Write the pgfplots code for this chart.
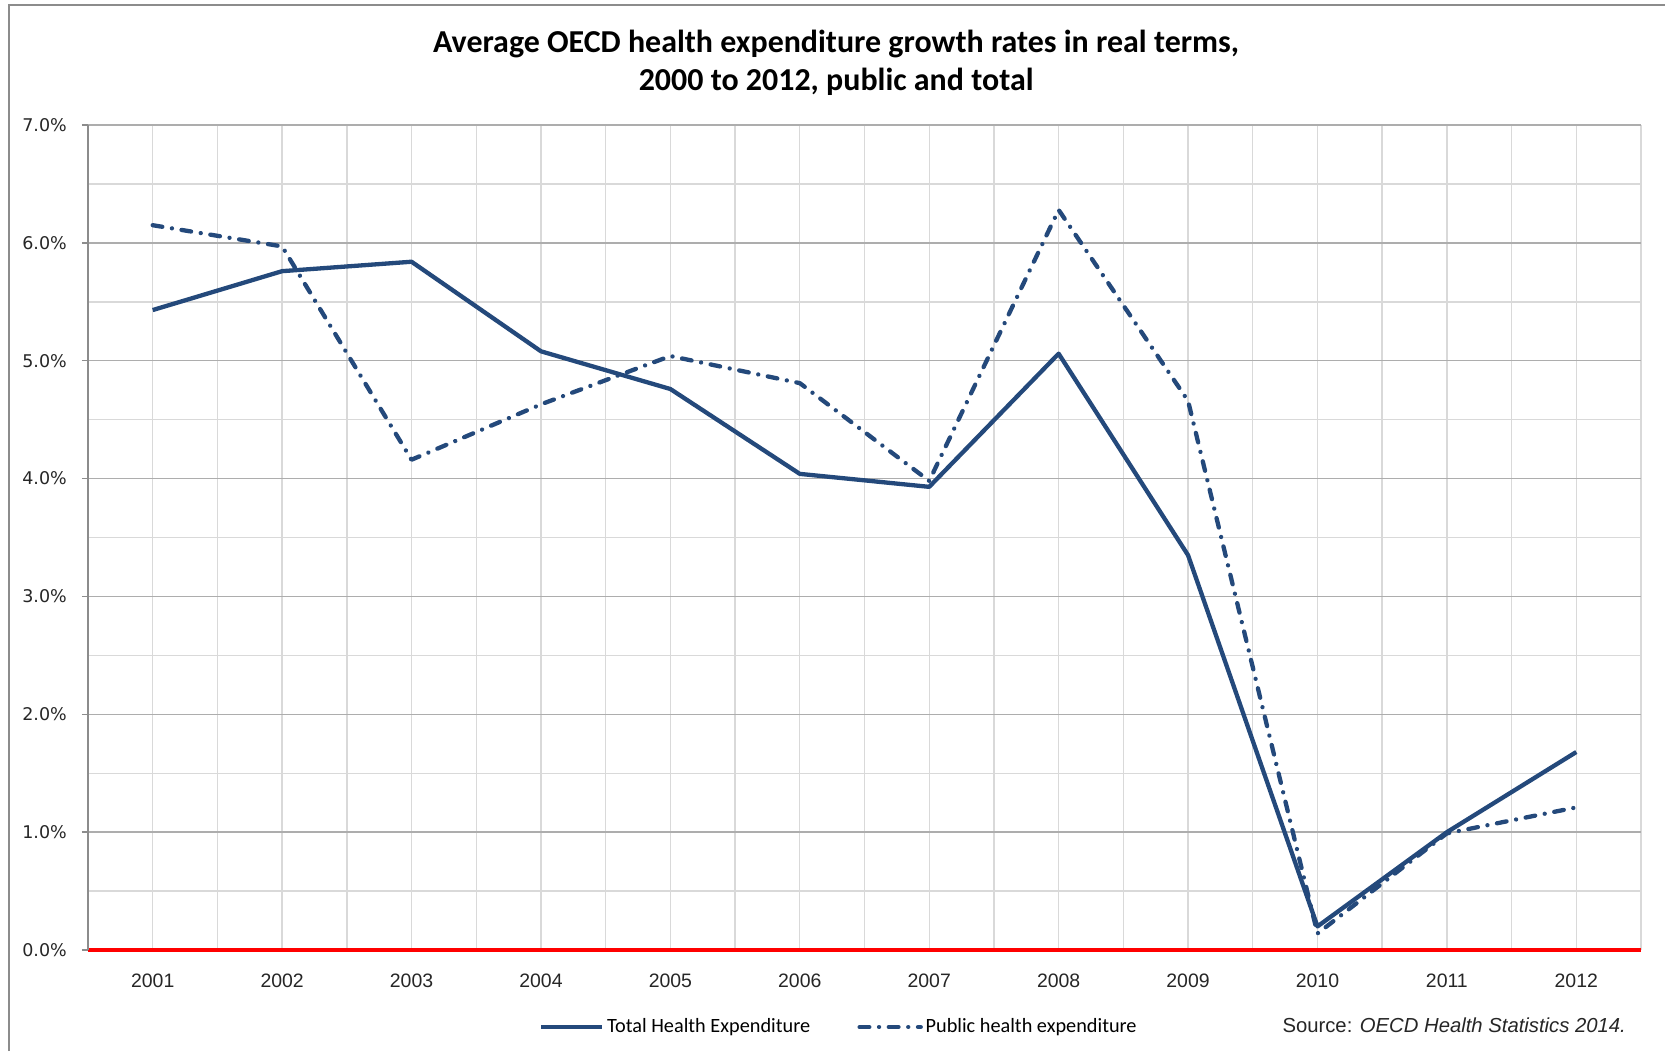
\documentclass[border=0pt]{standalone}
\usepackage{pgfplots}
\pgfplotsset{compat=1.18}
\usepackage{fontspec}
\setmainfont{Liberation Sans}
\newfontfamily\calibri{Carlito}
\newfontfamily\verd{DejaVu Sans}
\definecolor{lineblue}{HTML}{24497B}
\definecolor{framegray}{HTML}{8C8C8C}
\begin{document}
\begin{tikzpicture}
\path[use as bounding box] (0,0) rectangle (599.4pt,378.36pt);
\draw[framegray, line width=0.6pt] (3.24pt,0) -- (3.24pt,376.6pt) -- (599.4pt,376.6pt);
\node[font=\calibri\bfseries\fontsize{11.5}{13.7}\selectfont, align=center] at (301pt,355.6pt) {Average OECD health expenditure growth rates in real terms,\\2000 to 2012, public and total};
\begin{axis}[
  at={(31.68pt,36.36pt)}, anchor=south west,
  width=559.08pt, height=297pt, scale only axis,
  xmin=0.5, xmax=12.5, ymin=0, ymax=7,
  axis lines*=left, axis line style={-},
  x axis line style={red, line width=1.1pt},
  y axis line style={color=black!45, line width=0.6pt},
  xtick={1,2,3,4,5,6,7,8,9,10,11,12},
  xticklabels={2001,2002,2003,2004,2005,2006,2007,2008,2009,2010,2011,2012},
  minor xtick={0.5,1.5,2.5,3.5,4.5,5.5,6.5,7.5,8.5,9.5,10.5,11.5,12.5},
  ytick={0,1,2,3,4,5,6,7},
  yticklabels={0.0\%,1.0\%,2.0\%,3.0\%,4.0\%,5.0\%,6.0\%,7.0\%},
  minor ytick={0.5,1.5,2.5,3.5,4.5,5.5,6.5},
  xmajorgrids, xminorgrids, ymajorgrids, yminorgrids,
  major x grid style={color=black!15, line width=0.5pt},
  minor x grid style={color=black!15, line width=0.5pt},
  major y grid style={color=black!32, line width=0.5pt},
  minor y grid style={color=black!15, line width=0.5pt},
  tick align=outside,
  major tick length=2.2pt, minor tick length=0pt,
  xtick style={draw=none},
  ytick style={color=black!45, line width=0.5pt},
  xticklabel style={font=\fontsize{7}{8}\selectfont, yshift=-2.7pt, text=black!85},
  yticklabel style={font=\verd\fontsize{6.3}{7}\selectfont, xshift=-1.9pt, text=black!85},
  legend columns=2,
  legend style={at={(0.290,-0.0934)}, anchor=west, draw=none, fill=none,
    inner sep=0pt, font=\calibri\fontsize{7.3}{8}\selectfont,
    nodes={inner sep=1pt},
    /tikz/every even column/.append style={column sep=16pt}},
  legend image code/.code={\draw[#1] (0pt,0pt) -- (22pt,0pt);},
]
\addplot[color=lineblue, line width=1.55pt, line join=round] table {
x y
1 5.43
2 5.76
3 5.84
4 5.08
5 4.76
6 4.04
7 3.93
8 5.06
9 3.35
10 0.20
11 1.00
12 1.68
};
\addlegendentry{Total Health Expenditure}
\addplot[color=lineblue, line width=1.55pt, line join=round, line cap=round,
  dash pattern=on 3.5pt off 3.5pt on 0.01pt off 3.5pt] table {
x y
1 6.15
2 5.97
3 4.16
4 4.63
5 5.04
6 4.81
7 3.98
8 6.28
9 4.66
10 0.14
11 0.99
12 1.21
};
\addlegendentry{Public health expenditure}
\end{axis}
\node[anchor=west, font=\fontsize{7.3}{8}\selectfont, inner sep=0pt, text=black!85] at (461.5pt,9.4pt) {Source: \textit{OECD Health Statistics 2014.}};
\end{tikzpicture}
\end{document}
